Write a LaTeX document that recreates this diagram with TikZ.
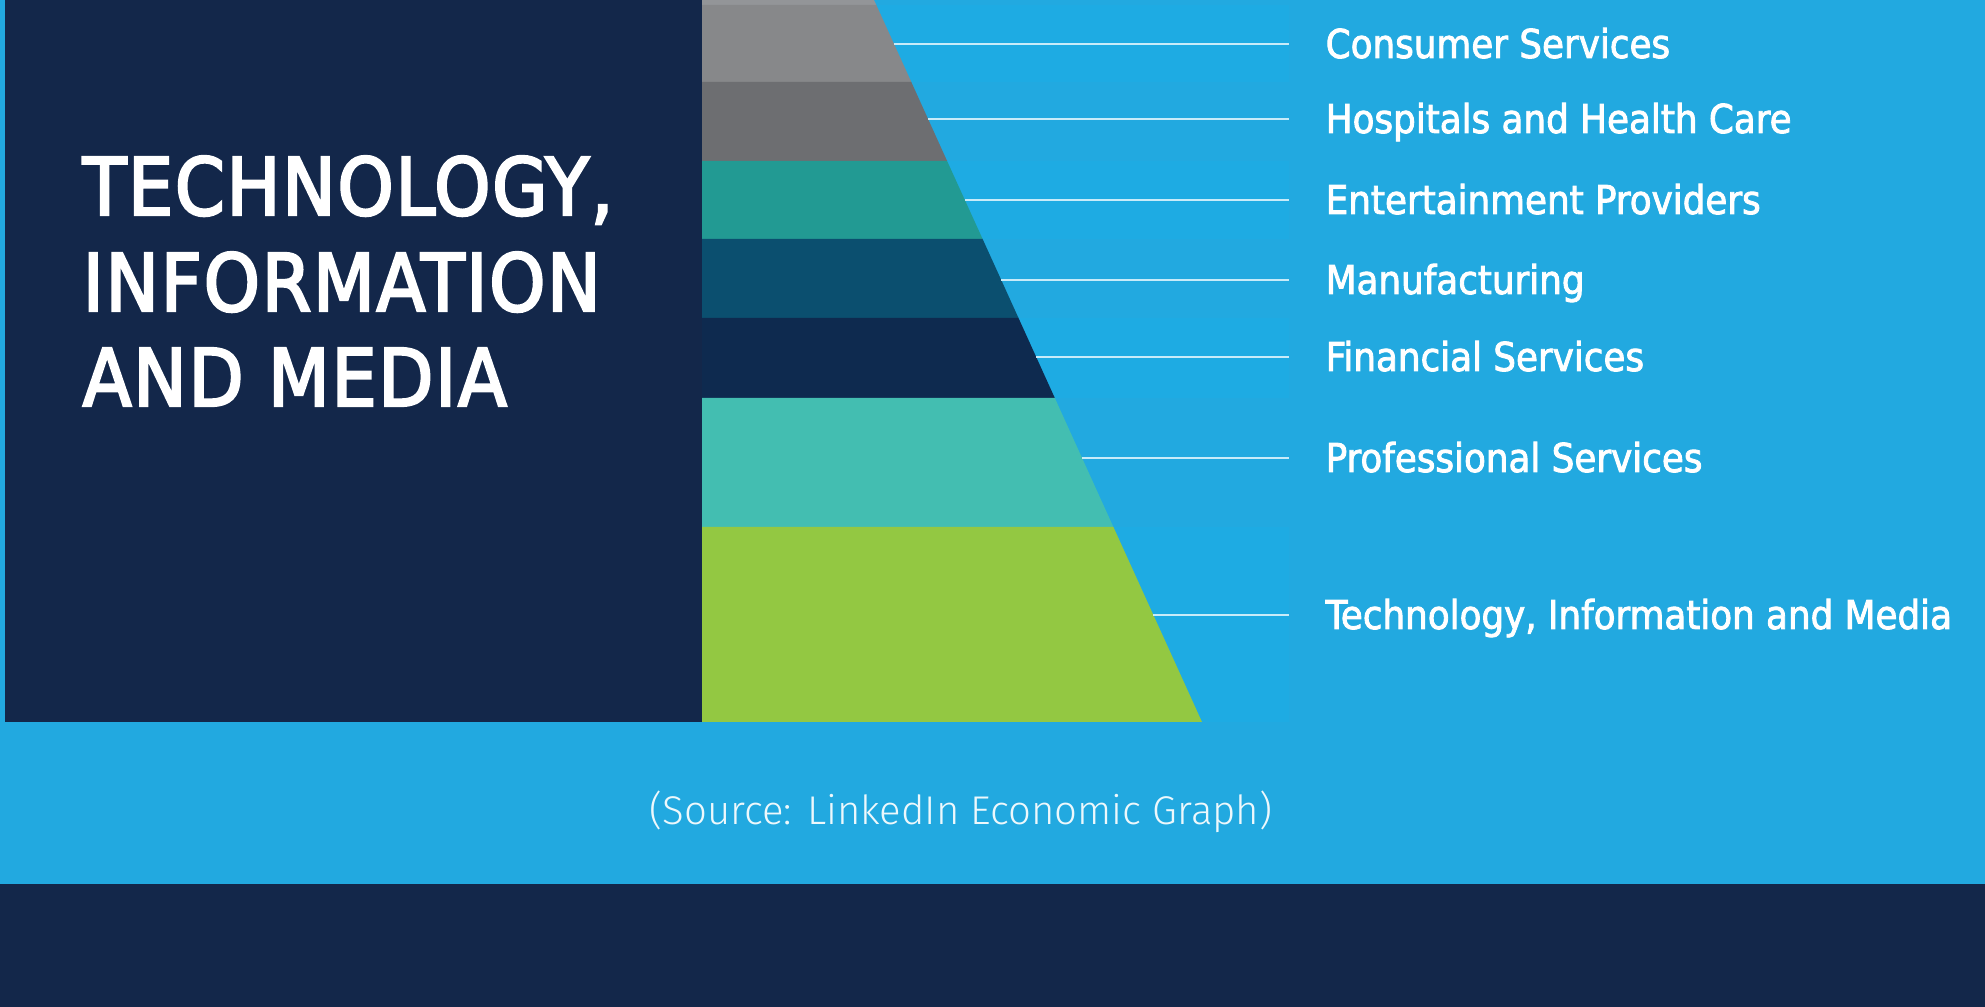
\documentclass[tikz,border=0pt]{standalone}
\usepackage{fontspec}
\setmainfont{DejaVu Sans Condensed}
\newfontfamily\titlefont{DejaVu Sans Condensed}[FakeBold=3, LetterSpace=2.2]
\newfontfamily\labelfont{DejaVu Sans Condensed}[FakeBold=2.2]
\newfontfamily\srcfont{Fira Sans Light}

\definecolor{navyblue}{HTML}{13274A}
\definecolor{skyblue}{HTML}{22A9E0}
\definecolor{rowblue}{HTML}{1EABE3}
\definecolor{topgray}{HTML}{939598}
\definecolor{lightgray}{HTML}{87888A}
\definecolor{darkgray}{HTML}{6D6E71}
\definecolor{tealband}{HTML}{229A93}
\definecolor{petrol}{HTML}{0B4F6F}
\definecolor{navyband}{HTML}{0E2A4F}
\definecolor{mint}{HTML}{43BEB1}
\definecolor{lime}{HTML}{93C842}
\definecolor{leadcol}{HTML}{C8EBF9}

\tikzset{
  label/.style={anchor=base west, inner sep=0pt, text=white, font=\labelfont\fontsize{11.3}{13}\selectfont},
  title/.style={anchor=base west, inner sep=0pt, text=white, font=\titlefont\fontsize{22.6}{27}\selectfont},
  leader/.style={leadcol, line width=0.6pt, shorten >=0.36cm}
}

\begin{document}
\begin{tikzpicture}[x=0.01cm, y=-0.01cm]
\fill[skyblue] (0,0) rectangle (1985,1007);
\fill[navyblue] (5,0) rectangle (702,722);
\fill[navyblue] (0,884) rectangle (1985,1007);

\fill[rowblue] (702,5) rectangle (1289,82);
\fill[rowblue] (702,161) rectangle (1289,239);
\fill[rowblue] (702,318) rectangle (1289,398);
\fill[rowblue] (702,527) rectangle (1289,722);

\fill[topgray] (702,0) -- (874,0) -- (876.3,5) -- (702,5) -- cycle;
\fill[lightgray] (702,5) -- (876.3,5) -- (911.3,82) -- (702,82) -- cycle;
\fill[darkgray] (702,82) -- (911.3,82) -- (947.1,161) -- (702,161) -- cycle;
\fill[tealband] (702,161) -- (947.1,161) -- (982.6,239) -- (702,239) -- cycle;
\fill[petrol] (702,239) -- (982.6,239) -- (1018.5,318) -- (702,318) -- cycle;
\fill[navyband] (702,318) -- (1018.5,318) -- (1054.8,398) -- (702,398) -- cycle;
\fill[mint] (702,398) -- (1054.8,398) -- (1113.4,527) -- (702,527) -- cycle;
\fill[lime] (702,527) -- (1113.4,527) -- (1202,722) -- (702,722) -- cycle;

\node[title] (t1) at (82,215) {TECHNOLOGY,};
\node[title] (t2) at (82,311) {INFORMATION};
\node[title] (t3) at (82,406) {AND MEDIA};

\coordinate (s1) at (894,44);
\coordinate (s2) at (928.1,119);
\coordinate (s3) at (964.9,200);
\coordinate (s4) at (1001.2,280);
\coordinate (s5) at (1036.2,357);
\coordinate (s6) at (1082.1,458);
\coordinate (s7) at (1153.4,615);

\node[label] (l1) at (1325,58) {Consumer Services};
\node[label] (l2) at (1325,133) {Hospitals and Health Care};
\node[label] (l3) at (1325,214) {Entertainment Providers};
\node[label] (l4) at (1325,294) {Manufacturing};
\node[label] (l5) at (1325,371) {Financial Services};
\node[label] (l6) at (1325,472) {Professional Services};
\node[label] (l7) at (1325,629) {Technology, Information and Media};

\draw[leader] (s1) -- (s1 -| l1.west);
\draw[leader] (s2) -- (s2 -| l2.west);
\draw[leader] (s3) -- (s3 -| l3.west);
\draw[leader] (s4) -- (s4 -| l4.west);
\draw[leader] (s5) -- (s5 -| l5.west);
\draw[leader] (s6) -- (s6 -| l6.west);
\draw[leader] (s7) -- (s7 -| l7.west);

\node[anchor=base, inner sep=0pt, text=white!92!skyblue, font=\srcfont\fontsize{11.4}{14}\selectfont] (src) at (961,825) {(Source: LinkedIn Economic Graph)};
\end{tikzpicture}
\end{document}
